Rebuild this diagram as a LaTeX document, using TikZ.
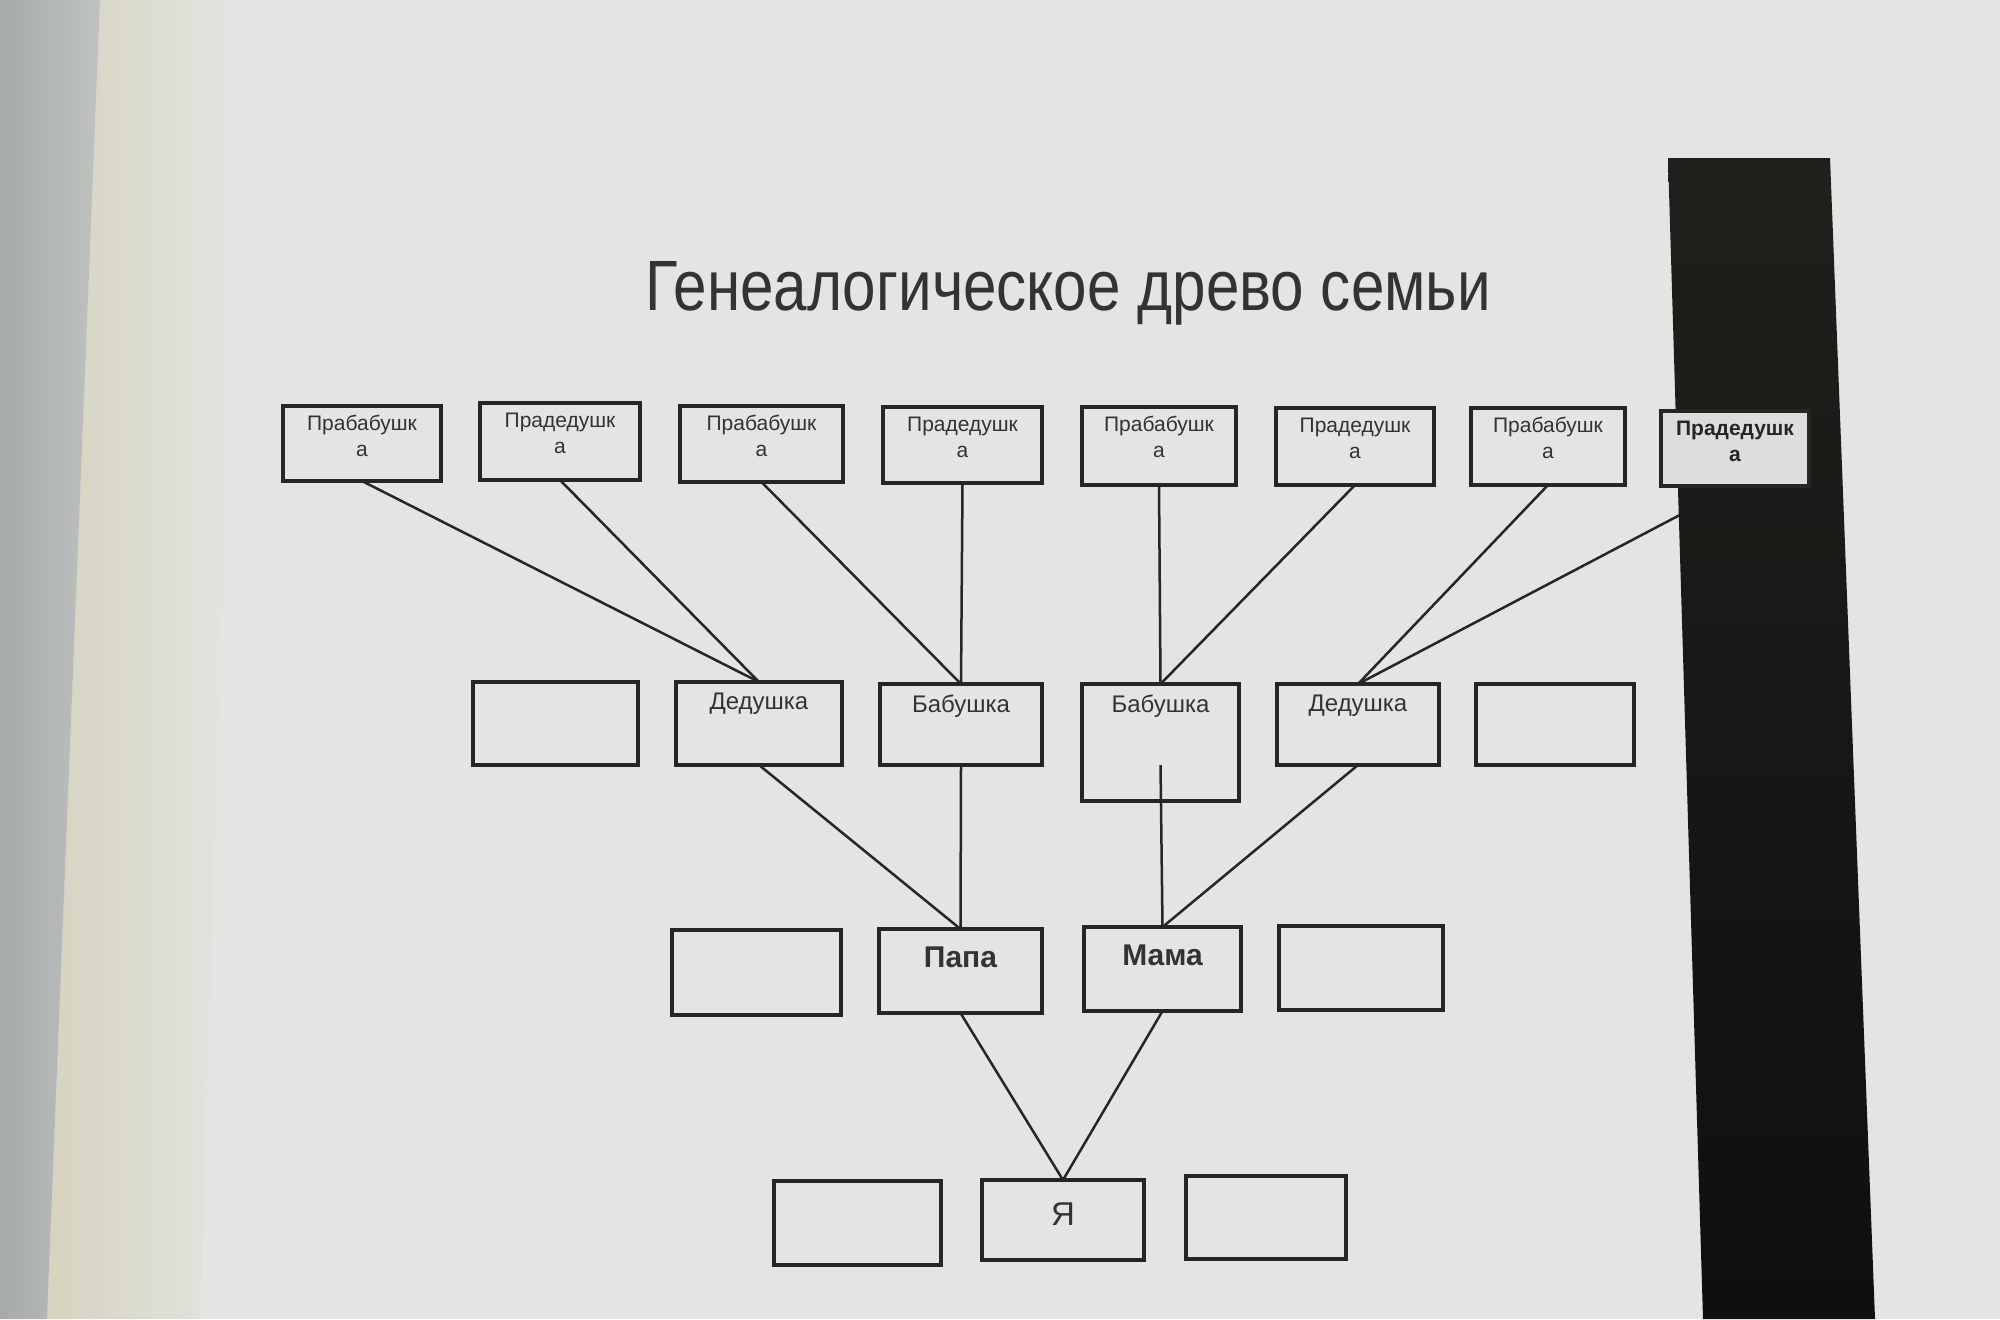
\documentclass[tikz,border=0pt]{standalone}
\usepackage{fontspec}
\setmainfont{Liberation Sans}
\definecolor{paper}{HTML}{E2E5E2}
\definecolor{ink}{HTML}{262626}
\definecolor{txt}{HTML}{333333}
\definecolor{edgegrayA}{HTML}{A6AAAA}
\definecolor{edgegrayB}{HTML}{BEC2C1}
\definecolor{edgebeige}{HTML}{D6D3BF}
\definecolor{bartop}{HTML}{211F1B}
\definecolor{barbot}{HTML}{0F0F10}
\definecolor{boxfill}{HTML}{DCDEDC}
\pgfdeclarelayer{bg}
\pgfdeclarelayer{lines}
\pgfdeclarelayer{bar}
\pgfsetlayers{bg,lines,bar,main}
\newcommand\gb[5]{\node[gbox, minimum width={(#4-#2)*0.5pt}, minimum height={(#5-#3)*0.5pt}] (#1) at ({(#2+#4)/2},{(#3+#5)/2}) {};}
\begin{document}
\begin{tikzpicture}[x=0.5pt,y=-0.5pt,
  gbox/.style={draw=ink, line width=1.6pt, inner sep=0pt, outer sep=0pt},
  link/.style={draw=ink, line width=1.25pt},
  small/.style={font=\fontsize{10.5}{13}\selectfont, text=txt, align=center, inner sep=0pt},
  mid/.style={font=\fontsize{12}{14}\selectfont, text=txt, inner sep=0pt},
  big/.style={font=\bfseries\fontsize{15}{18}\selectfont, text=txt, inner sep=0pt},
  me/.style={font=\fontsize{16.5}{19}\selectfont, text=txt, inner sep=0pt},
  titlestyle/.style={font=\fontsize{35.6}{40}\selectfont, text=txt, inner sep=0pt, anchor=base}]
\useasboundingbox (0,0) rectangle (2000,1319);
\begin{pgfonlayer}{bg}
  \fill[paper] (0,0) rectangle (2000,1319);
  \shade[left color=edgebeige, right color=paper] (100,0) -- (240,0) -- (200,1319) -- (47,1319) -- cycle;
  \shade[left color=edgegrayA, right color=edgegrayB] (0,0) -- (100,0) -- (47,1319) -- (0,1319) -- cycle;
\end{pgfonlayer}
\begin{pgfonlayer}{bar}
  \shade[top color=bartop, bottom color=barbot] (1668,158) -- (1830,158) -- (1875,1319) -- (1703,1319) -- cycle;
\end{pgfonlayer}

\node[titlestyle] (title) at (1068,310) {\scalebox{0.845}[1]{Генеалогическое древо семьи}};

% top row
\gb{t1}{283}{406}{441}{481}
\gb{t2}{480}{403}{640}{480}
\gb{t3}{680}{406}{843}{482}
\gb{t4}{883}{407}{1042}{483}
\gb{t5}{1082}{407}{1236}{485}
\gb{t6}{1276}{408}{1434}{485}
\gb{t7}{1471}{408}{1625}{485}
\node[gbox, fill=boxfill, minimum width={148*0.5pt}, minimum height={75*0.5pt}] (t8) at (1735,448.5) {};
% middle row
\gb{m1}{473}{682}{638}{765}
\gb{m2}{676}{682}{842}{765}
\gb{m3}{880}{684}{1042}{765}
\gb{m4}{1082}{684}{1239}{801}
\gb{m5}{1277}{684}{1439}{765}
\gb{m6}{1476}{684}{1634}{765}
% parents row
\gb{p1}{672}{930}{841}{1015}
\gb{p2}{879}{929}{1042}{1013}
\gb{p3}{1084}{927}{1241}{1011}
\gb{p4}{1279}{926}{1443}{1010}
% bottom row
\gb{b1}{774}{1181}{941}{1265}
\gb{b2}{982}{1180}{1144}{1260}
\gb{b3}{1186}{1176}{1346}{1259}

% labels
\node[small] (t1l) at ([yshift=-15pt]t1.north) {Прабабушк\\а};
\node[small] (t2l) at ([yshift=-15pt]t2.north) {Прадедушк\\а};
\node[small] (t3l) at ([yshift=-15pt]t3.north) {Прабабушк\\а};
\node[small] (t4l) at ([yshift=-15pt]t4.north) {Прадедушк\\а};
\node[small] (t5l) at ([yshift=-15pt]t5.north) {Прабабушк\\а};
\node[small] (t6l) at ([yshift=-15pt]t6.north) {Прадедушк\\а};
\node[small] (t7l) at ([yshift=-15pt]t7.north) {Прабабушк\\а};
\node[small, font=\bfseries\fontsize{10.5}{13}\selectfont, text=ink] (t8l) at ([yshift=-15pt]t8.north) {Прадедушк\\а};
\node[mid] (m2l) at ([yshift=-11pt]m2.north) {Дедушка};
\node[mid] (m3l) at ([yshift=-11pt]m3.north) {Бабушка};
\node[mid] (m4l) at ([yshift=-11pt]m4.north) {Бабушка};
\node[mid] (m5l) at ([yshift=-11pt]m5.north) {Дедушка};
\node[big] (p2l) at ([yshift=-14pt]p2.north) {Папа};
\node[big] (p3l) at ([yshift=-14pt]p3.north) {Мама};
\node[me] (b2l) at ([yshift=-17pt]b2.north) {Я};

% connectors
\begin{pgfonlayer}{lines}
  \draw[link] (t1.south) -- (m2.north);
  \draw[link] (t2.south) -- (m2.north);
  \draw[link] (t3.south) -- (m3.north);
  \draw[link] (t4.south) -- (m3.north);
  \draw[link] (t5.south) -- (m4.north);
  \draw[link] (t6.south) -- (m4.north);
  \draw[link] (t7.south) -- (m5.north);
  \draw[link] (t8.south) -- (m5.north);
  \draw[link] (m2.south) -- (p2.north);
  \draw[link] (m3.south) -- (p2.north);
  \draw[link] (m5.south) -- (p3.north);
  \draw[link] (p2.south) -- (b2.north);
  \draw[link] (p3.south) -- (b2.north);
\end{pgfonlayer}
\coordinate (m4in) at (m4.center |- m3.south);
\draw[link] (m4in) -- (p3.north);
\end{tikzpicture}
\end{document}
